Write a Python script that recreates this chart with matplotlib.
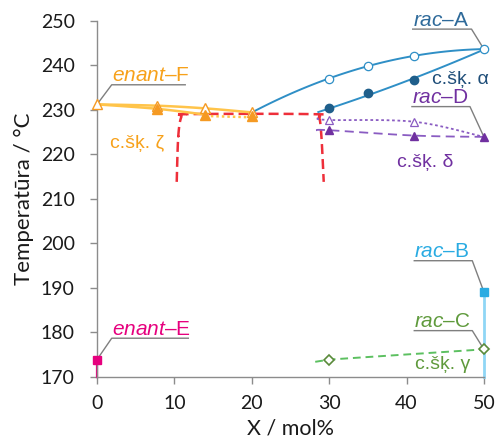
import numpy as np
import matplotlib.pyplot as plt

plt.rcParams['font.family'] = ['Lato', 'DejaVu Sans']
plt.rcParams['mathtext.fontset'] = 'custom'
plt.rcParams['mathtext.it'] = 'Liberation Sans:italic'
plt.rcParams['mathtext.rm'] = 'Liberation Sans'

# ---------------- data (X / mol%, T / degC) ----------------
# rac-A, alpha solid solution
alpha_liq_x = [20, 30, 35, 41, 50]
alpha_liq_y = [229.4, 236.9, 239.9, 242.1, 243.6]
alpha_sol_x = [28.6, 30, 35, 41, 50]
alpha_sol_y = [229.3, 230.3, 233.7, 236.7, 243.6]

# enant-F, zeta solid solution
zeta_open_x = [0, 7.8, 14, 20]
zeta_open_y = [231.2, 230.9, 230.3, 229.4]
zeta_fill_x = [0, 7.8, 14]
zeta_fill_y = [231.2, 230.2, 228.9]
zeta_dot_x = [14, 20]
zeta_dot_y = [228.6, 228.3]
zeta_end = (20, 228.7)

# rac-D, delta solid solution
delta_open_x = [28.4, 30, 41, 50]
delta_open_y = [228.1, 227.7, 227.3, 223.9]
delta_fill_x = [28.3, 30, 41, 50]
delta_fill_y = [225.4, 225.4, 224.2, 223.9]

# rac-C, gamma
gamma_x = [28.2, 30, 50]
gamma_y = [173.4, 173.9, 176.2]

# rac-B and enant-E
racB = (50, 189.1)
enantE = (0, 173.9)

# red boundary (eutectic region)
red_x = [10.3, 10.5, 10.9, 11.6, 28.0, 28.7, 29.0, 29.3]
red_y = [213.8, 224.0, 228.4, 229.0, 229.0, 228.3, 224.0, 213.8]

xmin, xmax = 0, 50
ymin, ymax = 170, 250


def smooth(x, y, n=20):
    # catmull-rom, like excel's smoothed line
    p = np.column_stack([x, y]).astype(float)
    p = np.vstack([p[0], p, p[-1]])
    t = np.linspace(0, 1, n)[:, None]
    segs = []
    for i in range(1, len(p) - 2):
        p0, p1, p2, p3 = p[i - 1], p[i], p[i + 1], p[i + 2]
        s = 0.5 * (2 * p1 + (-p0 + p2) * t + (2 * p0 - 5 * p1 + 4 * p2 - p3) * t ** 2
                   + (-p0 + 3 * p1 - 3 * p2 + p3) * t ** 3)
        segs.append(s)
    s = np.vstack(segs)
    return s[:, 0], s[:, 1]


def fit_curve(x, y, deg=2):
    c = np.polyfit(x, y, deg)
    xx = np.linspace(min(x), max(x), 80)
    return xx, np.polyval(c, xx)


fig = plt.figure(figsize=(4.96, 4.44), dpi=100, facecolor='white')
ax = fig.add_axes([0.1956, 0.151, 0.780, 0.8025])

blue_line = '#2f8fc6'
blue_dark = '#1f5f8b'
orange_line = '#ffc44a'
orange_mk = '#f59a23'
purple = '#7030a0'
purple_line = '#8a5cc2'
green_line = '#5cc060'
green_mk = '#5a8a3a'
cyan = '#29abe2'
cyan_line = '#8fd6f5'
pink = '#e6007e'
red = '#ee2f3a'
gray = '#7f7f7f'

# red boundary
rx, ry = smooth(red_x, red_y, 15)
ax.plot(rx, ry, color=red, lw=1.8, dashes=(4, 2), zorder=2)

# orange (zeta)
ox, oy = smooth(zeta_open_x, zeta_open_y)
ax.plot(ox, oy, color=orange_line, lw=1.8, zorder=3)
fx, fy = smooth(zeta_fill_x, zeta_fill_y)
ax.plot(fx, fy, color=orange_line, lw=1.8, zorder=3)
ax.plot(zeta_dot_x, zeta_dot_y, color=orange_line, lw=1.8, ls=(0, (1, 1.2)), zorder=3)
ax.plot(zeta_open_x, zeta_open_y, ls='none', marker='^', ms=6.5, mfc='white',
        mec=orange_mk, mew=1, zorder=5, clip_on=False)
ax.plot(zeta_fill_x[1:] + [zeta_end[0]], zeta_fill_y[1:] + [zeta_end[1]], ls='none',
        marker='^', ms=6.5, color=orange_mk, zorder=5)

# blue (alpha)
bx, by = fit_curve(alpha_liq_x, alpha_liq_y)
ax.plot(bx, by, color=blue_line, lw=1.4, zorder=3)
bx, by = fit_curve(alpha_sol_x, alpha_sol_y)
ax.plot(bx, by, color=blue_line, lw=1.4, zorder=3)
ax.plot(alpha_liq_x[1:], alpha_liq_y[1:], ls='none', marker='o', ms=6, mfc='white',
        mec=blue_line, mew=0.9, zorder=5, clip_on=False)
ax.plot(alpha_sol_x[1:-1], alpha_sol_y[1:-1], ls='none', marker='o', ms=6,
        color=blue_dark, zorder=5)

# purple (delta)
px_, py_ = smooth(delta_open_x, delta_open_y)
ax.plot(px_, py_, color=purple_line, lw=1.3, ls=(0, (1.5, 1.5)), zorder=3)
px_, py_ = smooth(delta_fill_x, delta_fill_y)
ax.plot(px_, py_, color=purple_line, lw=1.3, dashes=(5, 3), zorder=3)
ax.plot(delta_open_x[1:-1], delta_open_y[1:-1], ls='none', marker='^', ms=6,
        mfc='white', mec=purple_line, mew=0.9, zorder=5)
ax.plot(delta_fill_x[1:], delta_fill_y[1:], ls='none', marker='^', ms=6,
        color=purple, zorder=5, clip_on=False)

# green (gamma)
ax.plot(gamma_x, gamma_y, color=green_line, lw=1.4, dashes=(4, 2.5), zorder=3)
ax.plot(gamma_x[1:], gamma_y[1:], ls='none', marker='D', ms=5, mfc='white',
        mec=green_mk, mew=1.2, zorder=5, clip_on=False)

# rac-B, enant-E
ax.plot([racB[0], racB[0]], [ymin, racB[1]], color=cyan_line, lw=2, zorder=2, clip_on=False)
ax.plot(*racB, ls='none', marker='s', ms=6, color=cyan, zorder=5, clip_on=False)
ax.plot([enantE[0], enantE[0]], [ymin, enantE[1]], color=pink, lw=1.6, zorder=2, clip_on=False)
ax.plot(*enantE, ls='none', marker='s', ms=6, color=pink, zorder=5, clip_on=False)


def label(x0, x1, yline, target, txt, color):
    if target[0] >= x1:
        lx = [x0, x1, target[0]]
    else:
        lx = [x1, x0, target[0]]
    ax.plot(lx, [yline, yline, target[1]], color=gray, lw=1, zorder=4, clip_on=False)
    ax.annotate(txt, (x0, yline), xytext=(0, 2.5), textcoords='offset points',
                ha='left', va='baseline', color=color, fontsize=15,
                family=['Liberation Sans', 'DejaVu Sans'])


label(1.9, 11.4, 235.6, (0, 231.2), r'$\mathit{enant}$–F', '#f7a11a')
label(40.8, 48.4, 248.1, (50, 243.6), r'$\mathit{rac}$–A', '#2e6a9a')
label(40.7, 48.2, 230.7, (50, 223.9), r'$\mathit{rac}$–D', purple)
label(41.0, 48.5, 196.1, racB, r'$\mathit{rac}$–B', cyan)
label(41.0, 48.5, 180.4, (50, 176.2), r'$\mathit{rac}$–C', '#5f9a3c')
label(1.9, 11.8, 178.7, enantE, r'$\mathit{enant}$–E', pink)

phase_kw = dict(ha='center', va='center', fontsize=14, family=['Liberation Sans', 'DejaVu Sans'])
ax.text(5.2, 222.5, 'c.šķ. ζ', color='#f7a11a', **phase_kw)
ax.text(47.0, 236.8, 'c.šķ. α', color='#1f4e79', **phase_kw)
ax.text(42.4, 218.1, 'c.šķ. δ', color=purple, **phase_kw)
ax.text(44.7, 172.7, 'c.šķ. γ', color='#5f9a3c', **phase_kw)

ax.set_xlim(xmin, xmax)
ax.set_ylim(ymin, ymax)
ax.set_xticks(np.arange(0, 51, 10))
ax.set_yticks(np.arange(170, 251, 10))
for s in ['top', 'right']:
    ax.spines[s].set_visible(False)
for s in ['left', 'bottom']:
    ax.spines[s].set_color('#8c8c8c')
    ax.spines[s].set_linewidth(1)
ax.tick_params(axis='both', direction='out', length=5, width=1, color='#8c8c8c',
               labelsize=14, labelcolor='#1a1a1a')
ax.tick_params(axis='y', pad=11)
ax.tick_params(axis='x', pad=8)

ax.set_xlabel('X / mol%', fontsize=15.5, color='#1a1a1a', labelpad=5)
ax.set_ylabel('Temperatūra / °C', fontsize=16, color='#1a1a1a', labelpad=5)

plt.savefig('out.png', dpi=100, facecolor='white')
